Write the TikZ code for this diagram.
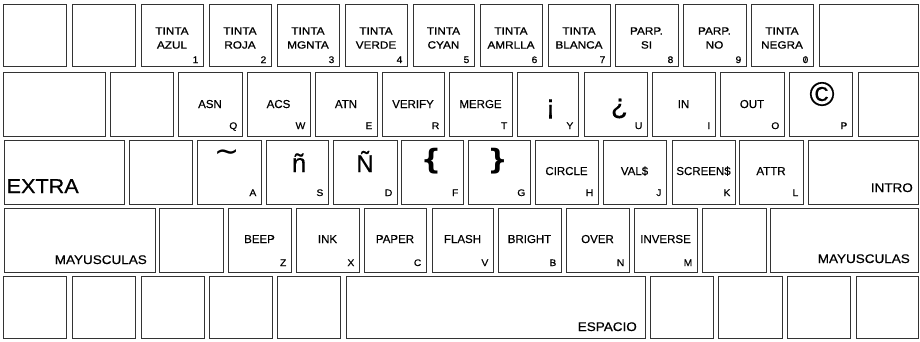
\documentclass[tikz,border=0pt]{standalone}
\usepackage{fontspec}
\usepackage{graphicx}
\setmainfont[FakeBold=0.4]{Liberation Sans}
\newfontfamily\rowone[FakeBold=1.0,FakeStretch=1.12]{Liberation Sans}
\newfontfamily\widef[FakeBold=0.6,FakeStretch=1.08]{Liberation Sans}
\newfontfamily\djv{DejaVu Sans}
\tikzset{
  keybox/.style={draw=black!80, line width=0.9pt, fill=white, inner sep=0pt, outer sep=0pt},
  lab/.style={font=\fontsize{11.5}{13}\selectfont, inner sep=0pt, anchor=base},
  toplab/.style={font=\rowone\fontsize{10.5}{14}\selectfont, align=center, inner sep=0pt},
  sub/.style={font=\widef\fontsize{9.5}{10}\selectfont, inner sep=0pt, anchor=base east, xshift=-4.5pt},
  big/.style={font=\widef\fontsize{12.5}{15}\selectfont, inner sep=0pt},
}
\newcommand\keynode[5]{\node[keybox, minimum width={(#3)-(#2)}, minimum height={(#5)-(#4)}] (#1) at ({((#2)+(#3))/2},{((#4)+(#5))/2}) {};}
\newcommand\slzero{\ooalign{0\cr\hidewidth\raisebox{0.2ex}{\scalebox{0.75}{/}}\hidewidth}}
\begin{document}
\begin{tikzpicture}[x=1pt,y=-1pt]
\useasboundingbox[fill=white] (0,0) rectangle (920,341);
% ---------- row 1
\keynode{r1a}{3}{66}{4}{66}
\keynode{r1b}{72}{135}{4}{66}
\keynode{k1}{141}{203}{4}{66}
\keynode{k2}{209}{271}{4}{66}
\keynode{k3}{277}{339}{4}{66}
\keynode{k4}{345}{407}{4}{66}
\keynode{k5}{413}{474}{4}{66}
\keynode{k6}{480}{542}{4}{66}
\keynode{k7}{548}{610}{4}{66}
\keynode{k8}{615}{678}{4}{66}
\keynode{k9}{683}{746}{4}{66}
\keynode{k0}{751}{813}{4}{66}
\keynode{r1c}{819}{918}{4}{66}
% ---------- row 2
\keynode{r2a}{3}{105}{72}{136}
\keynode{r2b}{110}{173}{72}{136}
\keynode{kq}{178}{242}{72}{136}
\keynode{kw}{247}{310}{72}{136}
\keynode{ke}{315}{377}{72}{136}
\keynode{kr}{382}{444}{72}{136}
\keynode{kt}{449}{512}{72}{136}
\keynode{ky}{517}{578}{72}{136}
\keynode{ku}{584}{647}{72}{136}
\keynode{ki}{652}{715}{72}{136}
\keynode{ko}{720}{784}{72}{136}
\keynode{kp}{789}{852}{72}{136}
\keynode{r2c}{858}{918}{72}{136}
% ---------- row 3
\keynode{kextra}{4}{124}{140}{204}
\keynode{r3b}{129}{192}{140}{204}
\keynode{ka}{197}{261}{140}{204}
\keynode{ks}{266}{328}{140}{204}
\keynode{kd}{333}{397}{140}{204}
\keynode{kf}{401}{463}{140}{204}
\keynode{kg}{468}{530}{140}{204}
\keynode{kh}{535}{598}{140}{204}
\keynode{kj}{603}{666}{140}{204}
\keynode{kk}{672}{735}{140}{204}
\keynode{kl}{739}{803}{140}{204}
\keynode{kintro}{808}{918}{140}{204}
% ---------- row 4
\keynode{kcapsl}{4}{155}{208}{272}
\keynode{r4b}{159}{223}{208}{272}
\keynode{kz}{228}{291}{208}{272}
\keynode{kx}{296}{359}{208}{272}
\keynode{kc}{364}{426}{208}{272}
\keynode{kv}{432}{493}{208}{272}
\keynode{kb}{498}{561}{208}{272}
\keynode{kn}{566}{629}{208}{272}
\keynode{km}{634}{697}{208}{272}
\keynode{r4c}{702}{766}{208}{272}
\keynode{kcapsr}{770}{918}{208}{272}
% ---------- row 5
\keynode{r5a}{3}{66}{276}{338}
\keynode{r5b}{72}{135}{276}{338}
\keynode{r5c}{141}{204}{276}{338}
\keynode{r5d}{209}{272}{276}{338}
\keynode{r5e}{277}{340}{276}{338}
\keynode{kspace}{346}{645}{276}{338}
\keynode{r5f}{650}{713}{276}{338}
\keynode{r5g}{718}{782}{276}{338}
\keynode{r5h}{787}{850}{276}{338}
\keynode{r5i}{856}{918}{276}{338}
% ---------- row 1 labels
\foreach \n/\a/\b/\s in {k1/TINTA/AZUL/1, k2/TINTA/ROJA/2, k3/TINTA/MGNTA/3,
  k4/TINTA/VERDE/4, k5/TINTA/CYAN/5, k6/TINTA/AMRLLA/6, k7/TINTA/BLANCA/7,
  k8/PARP./SI/8, k9/PARP./NO/9, k0/TINTA/NEGRA/\slzero}{
  \node[toplab] (\n-t) at ([yshift=-3pt]\n.center) {\a\\\b};
  \node[sub, yshift=3pt] (\n-s) at (\n.south east) {\s};
}
% ---------- row 2 labels
\foreach \n/\t/\s in {kq/ASN/Q, kw/ACS/W, ke/ATN/E, kr/VERIFY/R, kt/MERGE/T,
  ki/IN/I, ko/OUT/O}{
  \node[lab] (\n-t) at ([yshift=-4pt]\n.center) {\t};
  \node[sub, yshift=7pt] (\n-s) at (\n.south east) {\s};
}
\node[font=\fontsize{28}{30}\selectfont, inner sep=0pt] (ky-t) at ([xshift=3pt,yshift=-5pt]ky.center) {¡};
\node[sub, yshift=7pt] (ky-s) at (ky.south east) {Y};
\node[font=\fontsize{28}{30}\selectfont, inner sep=0pt] (ku-t) at ([xshift=4pt,yshift=-4.5pt]ku.center) {¿};
\node[sub, yshift=7pt] (ku-s) at (ku.south east) {U};
\node[font=\fontsize{34}{36}\selectfont, inner sep=0pt] (kp-t) at ([xshift=1.5pt,yshift=10pt]kp.center) {©};
\node[sub, yshift=7pt] (kp-s) at (kp.south east) {P};
% ---------- row 3 labels
\foreach \n/\t/\s in {kh/CIRCLE/H, kj/VAL\$/J, kk/SCREEN\$/K, kl/ATTR/L}{
  \node[lab] (\n-t) at ([yshift=-3pt]\n.center) {\t};
  \node[sub, yshift=8pt] (\n-s) at (\n.south east) {\s};
}
\node[font=\djv\fontsize{30}{32}\selectfont, inner sep=0pt] (ka-t) at ([xshift=-2pt,yshift=16pt]ka.center) {\textasciitilde};
\node[sub, yshift=8pt] (ka-s) at (ka.south east) {A};
\node[font=\fontsize{26}{28}\selectfont, inner sep=0pt, anchor=base] (ks-t) at ([xshift=2pt,yshift=0pt]ks.center) {ñ};
\node[sub, yshift=8pt] (ks-s) at (ks.south east) {S};
\node[font=\fontsize{24}{26}\selectfont, inner sep=0pt, anchor=base] (kd-t) at ([xshift=0pt,yshift=0pt]kd.center) {Ñ};
\node[sub, yshift=8pt] (kd-s) at (kd.south east) {D};
\node[font=\djv\bfseries\fontsize{28}{30}\selectfont, inner sep=0pt] (kf-t) at ([xshift=-1pt,yshift=11pt]kf.center) {\{};
\node[sub, yshift=8pt] (kf-s) at (kf.south east) {F};
\node[font=\djv\bfseries\fontsize{28}{30}\selectfont, inner sep=0pt] (kg-t) at ([xshift=-1.5pt,yshift=11pt]kg.center) {\}};
\node[sub, yshift=8pt] (kg-s) at (kg.south east) {G};
\node[font=\widef\fontsize{20}{22}\selectfont, inner sep=0pt, anchor=base west] (kextra-t) at ([xshift=2.5pt,yshift=11pt]kextra.south west) {EXTRA};
\node[big, anchor=base east] (kintro-t) at ([xshift=-5pt,yshift=12pt]kintro.south east) {INTRO};
% ---------- row 4 labels
\foreach \n/\t/\s in {kz/BEEP/Z, kx/INK/X, kc/PAPER/C, kv/FLASH/V, kb/BRIGHT/B,
  kn/OVER/N, km/INVERSE/M}{
  \node[lab] (\n-t) at ([yshift=-3pt]\n.center) {\t};
  \node[sub, yshift=6pt] (\n-s) at (\n.south east) {\s};
}
\node[big, anchor=base east] (kcapsl-t) at ([xshift=-8pt,yshift=8pt]kcapsl.south east) {MAYUSCULAS};
\node[big, anchor=base east] (kcapsr-t) at ([xshift=-8pt,yshift=9pt]kcapsr.south east) {MAYUSCULAS};
% ---------- row 5 label
\node[big, anchor=base east] (kspace-t) at ([xshift=-8pt,yshift=7pt]kspace.south east) {ESPACIO};
\end{tikzpicture}
\end{document}
